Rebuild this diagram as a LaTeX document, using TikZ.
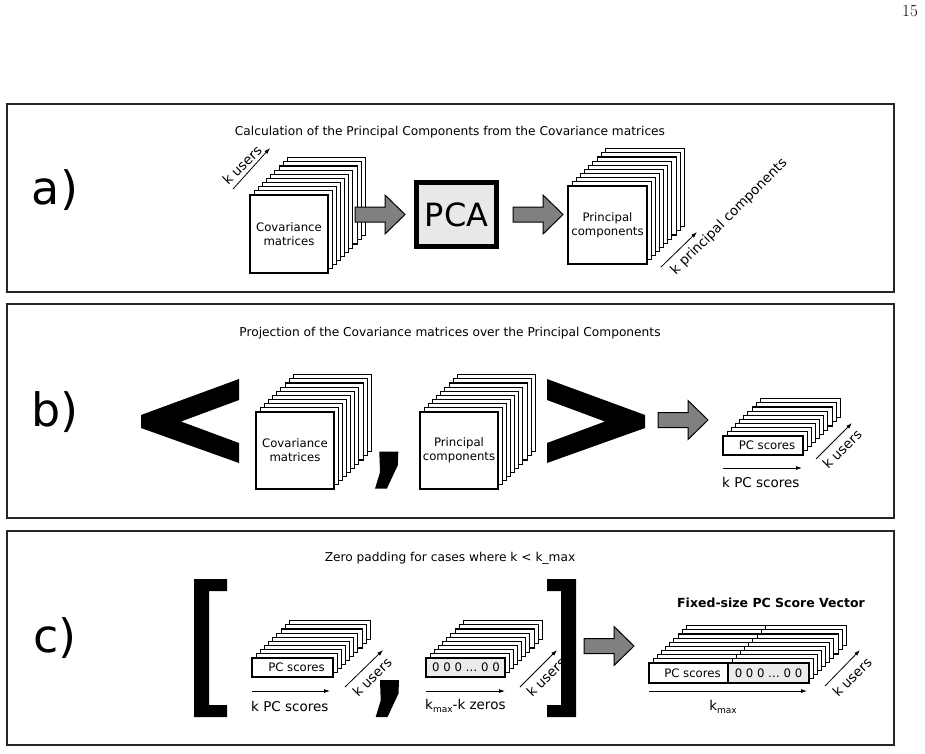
\documentclass[tikz,border=0pt]{standalone}
\usepackage{fontspec}
\newfontfamily\dv{DejaVu Sans}
\usetikzlibrary{arrows.meta}
\tikzset{
  panel/.style={draw=black!85, line width=2pt},
  sheet/.style={draw=black, line width=1.1pt, fill=white},
  zsheet/.style={draw=black, line width=1.1pt, fill=black!8},
  titletext/.style={font=\dv\fontsize{12.2}{14}\selectfont, inner sep=0pt},
  boxtext/.style={font=\dv\fontsize{11.7}{14}\selectfont, align=center, inner sep=0pt},
  lbl/.style={font=\dv\fontsize{13.5}{16}\selectfont, inner sep=0pt},
  bigletter/.style={font=\dv\fontsize{46}{50}\selectfont, inner sep=0pt},
  dimarrow/.style={-{Latex[length=6pt,width=4pt]}, line width=0.8pt},
  garrowstyle/.style={draw=black, line width=1pt, fill=black!50},
  blackshape/.style={fill=black},
}
\newcommand\backsheets[4]{\foreach \i in {9,...,1}{\draw[sheet] ({#1-#3/2+4.15*\i},{#2-#4/2-4.15*\i}) rectangle ++(#3,#4);}}
\newcommand\garrow[2]{\draw[garrowstyle] (#1,#2-7.5) -- ++(30,0) -- ++(0,-12) -- ++(20,19.5) -- ++(-20,19.5) -- ++(0,-12) -- ++(-30,0) -- cycle;}
\newcommand\bigcomma[2]{\fill[blackshape] (#1,#2) -- ++(19,0) -- ++(-0.5,13.5) -- ++(-11,23.5) -- ++(-11.8,0) -- ++(5,-16.5) -- cycle;}
\begin{document}
\begin{tikzpicture}[x=1pt,y=-1pt]
\useasboundingbox (0,0) rectangle (925,753);
\node[font=\normalfont\fontsize{17}{18}\selectfont, inner sep=0pt] (pg) at (910,11) {15};

% ---------- panel a ----------
\draw[panel] (7,104) rectangle (894,292);
\node[bigletter] (la) at (55,190) {a)};
\node[titletext] (ta) at (450,132) {Calculation of the Principal Components from the Covariance matrices};
\backsheets{289}{234}{78}{78}
\node[sheet, boxtext, minimum width=78pt, minimum height=78pt] (covA) at (289,234) {Covariance\\matrices};
\coordinate (kuA1) at (233,189); \coordinate (kuA2) at (270,148);
\draw[dimarrow] (kuA1) -- (kuA2);
\node[lbl, rotate=45] (kuAt) at (242,165) {k users};
\garrow{355}{214.5}
\node[draw=black, line width=5pt, fill=black!9, minimum width=80pt, minimum height=64pt, inner sep=0pt, font=\dv\fontsize{32}{34}\selectfont] (pca) at (456.5,214.5) {PCA};
\garrow{513}{214.5}
\backsheets{607.5}{225}{79}{78}
\node[sheet, boxtext, minimum width=79pt, minimum height=78pt] (pcA) at (607.5,225) {Principal\\components};
\coordinate (kpA1) at (661,267); \coordinate (kpA2) at (697,232);
\draw[dimarrow] (kpA1) -- (kpA2);
\node[lbl, rotate=45] (kpAt) at (729,217) {k principal components};

% ---------- panel b ----------
\draw[panel] (7,304) rectangle (894,518);
\node[bigletter] (lb) at (55,412) {b)};
\node[titletext] (tb) at (450,333) {Projection of the Covariance matrices over the Principal Components};
\fill[blackshape] (239,379) -- (141,415) -- (141,428) -- (239,463) -- (239,443) -- (181,421.5) -- (239,400) -- cycle;
\backsheets{295}{450.5}{78}{77}
\node[sheet, boxtext, minimum width=78pt, minimum height=77pt] (covB) at (295,450.5) {Covariance\\matrices};
\bigcomma{379.3}{451.7}
\backsheets{459}{450.5}{78}{77}
\node[sheet, boxtext, minimum width=78pt, minimum height=77pt] (pcB) at (459,450.5) {Principal\\components};
\fill[blackshape] (547,379) -- (645,415) -- (645,428) -- (547,463) -- (547,443) -- (605,421.5) -- (547,400) -- cycle;
\garrow{658}{420}
\backsheets{763}{445.5}{80}{19}
\node[sheet, minimum width=80pt, minimum height=19pt, inner sep=0pt] (scB) at (763,445.5) {};
\node[boxtext] (scBt) at (767,445.5) {PC scores};
\coordinate (kpsB1) at (723,468); \coordinate (kpsB2) at (802,468);
\draw[dimarrow] (kpsB1) -- (kpsB2);
\node[lbl, anchor=west] (kpsBt) at (722,482) {k PC scores};
\coordinate (kuB1) at (816,459); \coordinate (kuB2) at (852,423);
\draw[dimarrow] (kuB1) -- (kuB2);
\node[lbl, rotate=45] (kuBt) at (842,449) {k users};

% ---------- panel c ----------
\draw[panel] (7,531) rectangle (894,745);
\node[bigletter] (lc) at (55,638) {c)};
\node[titletext] (tc) at (450,558) {Zero padding for cases where k < k\_max};
% PC scores stack
\backsheets{292.5}{667.5}{81}{19}
\node[sheet, minimum width=81pt, minimum height=19pt, inner sep=0pt] (scC) at (292.5,667.5) {};
\node[boxtext] (scCt) at (296.5,667.5) {PC scores};
\coordinate (kpsC1) at (252,691); \coordinate (kpsC2) at (330,691);
\draw[dimarrow] (kpsC1) -- (kpsC2);
\node[lbl, anchor=west] (kpsCt) at (251,706) {k PC scores};
\coordinate (kuC1) at (345,687); \coordinate (kuC2) at (383,650);
\draw[dimarrow] (kuC1) -- (kuC2);
\node[lbl, rotate=45] (kuCt) at (372,677) {k users};
\bigcomma{380}{680}
% zeros stack
\backsheets{465.5}{667.5}{79}{19}
\node[zsheet, minimum width=79pt, minimum height=19pt, inner sep=0pt] (zC) at (465.5,667.5) {};
\node[boxtext] (zCt) at (466,667.5) {0 0 0 … 0 0};
\coordinate (kzC1) at (426,691); \coordinate (kzC2) at (505,691);
\draw[dimarrow] (kzC1) -- (kzC2);
\node[lbl, anchor=west] (kzCt) at (425,706) {k\raisebox{-0.35ex}{\fontsize{9}{9}\selectfont max}-k zeros};
\coordinate (kuZ1) at (520,687); \coordinate (kuZ2) at (557,650);
\draw[dimarrow] (kuZ1) -- (kuZ2);
\node[lbl, rotate=45] (kuZt) at (546,677) {k users};
% brackets
\fill[blackshape] (227,579) -- (194,579) -- (194,717) -- (227,717) -- (227,705) -- (209,705) -- (209,591) -- (227,591) -- cycle;
\fill[blackshape] (547,579) -- (576,579) -- (576,717) -- (547,717) -- (547,705) -- (561,705) -- (561,591) -- (547,591) -- cycle;
\garrow{584}{646}
% fixed size vector
\node[font=\dv\bfseries\fontsize{12.5}{14}\selectfont, inner sep=0pt] (fxt) at (771,603) {Fixed-size PC Score Vector};
\foreach \i in {9,...,1}{
  \draw[sheet] ({649+4.15*\i},{663-4.15*\i}) rectangle ++(79,20);
  \draw[sheet] ({728+4.15*\i},{663-4.15*\i}) rectangle ++(81,20);
}
\node[sheet, minimum width=79pt, minimum height=20pt, inner sep=0pt] (fxL) at (688.5,673) {};
\node[zsheet, minimum width=81pt, minimum height=20pt, inner sep=0pt] (fxR) at (768.5,673) {};
\node[boxtext] (fxLt) at (692.5,673) {PC scores};
\node[boxtext] (fxRt) at (768.5,673) {0 0 0 … 0 0};
\coordinate (kmx1) at (649,691); \coordinate (kmx2) at (807,691);
\draw[dimarrow] (kmx1) -- (kmx2);
\node[lbl] (kmxt) at (723,707) {k\raisebox{-0.35ex}{\fontsize{9}{9}\selectfont max}};
\coordinate (kuF1) at (825,686); \coordinate (kuF2) at (860,650);
\draw[dimarrow] (kuF1) -- (kuF2);
\node[lbl, rotate=45] (kuFt) at (852,677) {k users};
\end{tikzpicture}
\end{document}
